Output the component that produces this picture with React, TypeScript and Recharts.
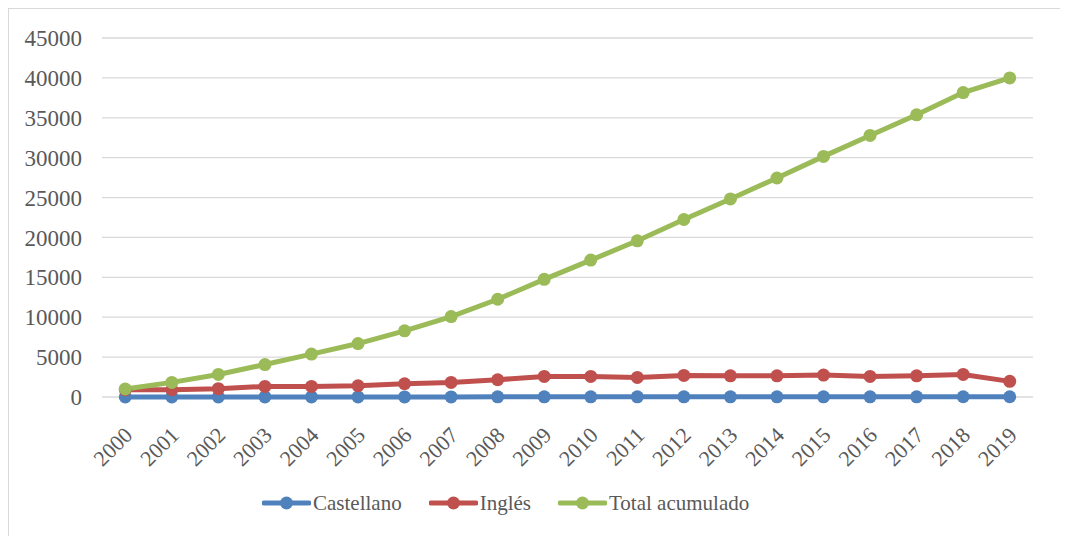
import React from 'react';
import { LineChart, Line, XAxis, YAxis, CartesianGrid, Legend } from 'recharts';

// Years on the category axis
const years = [
  '2000', '2001', '2002', '2003', '2004', '2005', '2006', '2007', '2008', '2009',
  '2010', '2011', '2012', '2013', '2014', '2015', '2016', '2017', '2018', '2019',
];

// Annual counts per language
const castellano = [10, 10, 10, 10, 10, 10, 15, 15, 20, 20, 20, 20, 25, 25, 25, 25, 25, 25, 30, 30];
const ingles = [900, 910, 1040, 1330, 1330, 1410, 1660, 1830, 2160, 2580, 2580, 2450, 2700, 2660, 2660, 2750, 2580, 2660, 2830, 1960];
// Running total
const totalAcumulado = [1000, 1830, 2830, 4070, 5380, 6700, 8290, 10080, 12250, 14750, 17160, 19580, 22250, 24830, 27450, 30160, 32790, 35370, 38160, 40000];

const yTicks = [0, 5000, 10000, 15000, 20000, 25000, 30000, 35000, 40000, 45000];

const series = [
  { key: 'castellano', name: 'Castellano', color: '#4F81BD' },
  { key: 'ingles', name: 'Inglés', color: '#C0504D' },
  { key: 'total', name: 'Total acumulado', color: '#9BBB59' },
];

const data = years.map((year, i) => ({
  year,
  castellano: castellano[i],
  ingles: ingles[i],
  total: totalAcumulado[i],
}));

const FONT = "'Liberation Serif', 'Times New Roman', Times, 'DejaVu Serif', serif";
const TEXT = '#595959';

const YearTick = (props: any) => {
  const { x, y, payload } = props;
  return (
    <g transform={`translate(${x + 3},${y + 26})`}>
      <text
        transform="rotate(-45)"
        textAnchor="end"
        style={{ fontFamily: FONT }}
        fontSize={22}
        fill={TEXT}
        dy="0.35em"
      >
        {payload.value}
      </text>
    </g>
  );
};

const LegendContent = () => (
  <div style={{ display: 'flex', alignItems: 'center', marginLeft: 253, height: 40 }}>
    {series.map((s) => (
      <div key={s.key} style={{ display: 'flex', alignItems: 'center', marginRight: 27 }}>
        <svg width={49} height={16} style={{ display: 'block' }}>
          <line x1={2} y1={8} x2={47} y2={8} stroke={s.color} strokeWidth={5} strokeLinecap="round" />
          <circle cx={24.5} cy={8} r={6.5} fill={s.color} />
        </svg>
        <span style={{ fontFamily: FONT, fontSize: 21, color: TEXT, marginLeft: 2 }}>{s.name}</span>
      </div>
    ))}
  </div>
);

export default function App() {
  return (
    <div
      style={{
        position: 'relative',
        width: 1060,
        height: 528,
        borderLeft: '1px solid #d9d9d9',
        borderTop: '1px solid #d9d9d9',
        boxSizing: 'border-box',
        background: '#fff',
        fontFamily: FONT,
      }}
    >
      <LineChart
        width={1059}
        height={527}
        data={data}
        margin={{ top: 29, right: 35, left: 0, bottom: 29 }}
        style={{ fontFamily: FONT }}
      >
        <CartesianGrid horizontal vertical={false} stroke="#d9d9d9" strokeWidth={1.3} />
        <XAxis
          dataKey="year"
          scale="band"
          axisLine={false}
          tickLine={false}
          interval={0}
          height={70}
          tick={<YearTick />}
        />
        <YAxis
          domain={[0, 45000]}
          ticks={yTicks}
          axisLine={false}
          tickLine={false}
          width={93}
          tickMargin={14}
          tick={{ style: { fontFamily: FONT }, fontSize: 23, fill: TEXT }}
        />
        <Legend
          verticalAlign="bottom"
          height={40}
          content={<LegendContent />}
          wrapperStyle={{ top: 474, left: 0, width: 1059 }}
        />
        {series.map((s) => (
          <Line
            key={s.key}
            type="linear"
            dataKey={s.key}
            name={s.name}
            stroke={s.color}
            strokeWidth={5}
            dot={{ r: 6.5, fill: s.color, stroke: s.color, strokeWidth: 0 }}
            activeDot={false}
            isAnimationActive={false}
          />
        ))}
      </LineChart>
    </div>
  );
}
